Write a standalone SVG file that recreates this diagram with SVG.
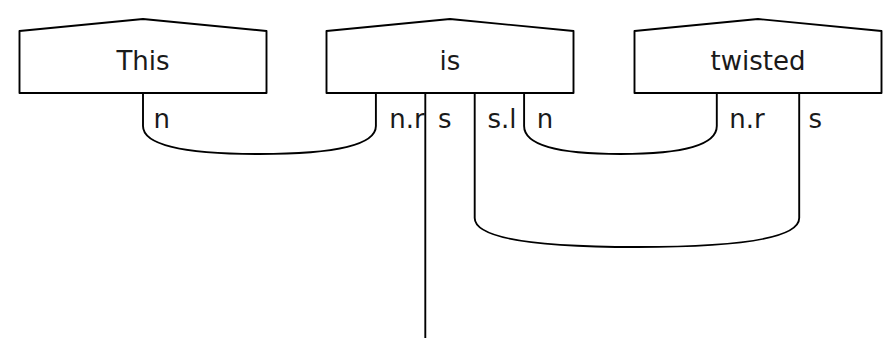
<svg xmlns="http://www.w3.org/2000/svg" width="883" height="338" viewBox="0 0 883 338">
  <style>
    .box { fill: #ffffff; stroke: #000000; stroke-width: 1.9; stroke-linejoin: round; }
    .wire { fill: none; stroke: #000000; stroke-width: 1.9; }
    .name { font-family: "DejaVu Sans", sans-serif; font-size: 26px; fill: #1a1a1a; text-anchor: middle; }
    .type { font-family: "DejaVu Sans", sans-serif; font-size: 26px; fill: #1a1a1a; }
  </style>
  <rect width="883" height="338" fill="#ffffff"/>

  <!-- wires: cups and the open output -->
  <g id="connectors">
    <path class="wire" d="M143,93 V126 Q143,154 259.5,154 Q375.9,154 375.9,126 V93"/>
    <path class="wire" d="M524.1,93 V126 Q524.1,154 620.5,154 Q716.8,154 716.8,126 V93"/>
    <path class="wire" d="M474.7,93 V218 Q474.7,247 637,247 Q799.2,247 799.2,218 V93"/>
    <path class="wire" d="M425.3,93 V338"/>
  </g>

  <g id="box-this">
    <polygon class="box" points="19.5,93 19.5,31 143,19 266.5,31 266.5,93"/>
    <text class="name" x="143" y="69.5">This</text>
    <text class="type" x="153.5" y="127.8">n</text>
  </g>

  <g id="box-is">
    <polygon class="box" points="326.5,93 326.5,31 450,19 573.5,31 573.5,93"/>
    <text class="name" x="450" y="69.5">is</text>
    <text class="type" x="389.2" y="127.8">n.r</text>
    <text class="type" x="438" y="127.8">s</text>
    <text class="type" x="487.5" y="127.8">s.l</text>
    <text class="type" x="536.8" y="127.8">n</text>
  </g>

  <g id="box-twisted">
    <polygon class="box" points="634.5,93 634.5,31 758,19 881.5,31 881.5,93"/>
    <text class="name" x="758" y="69.5">twisted</text>
    <text class="type" x="729.2" y="127.8">n.r</text>
    <text class="type" x="808.5" y="127.8">s</text>
  </g>
</svg>
